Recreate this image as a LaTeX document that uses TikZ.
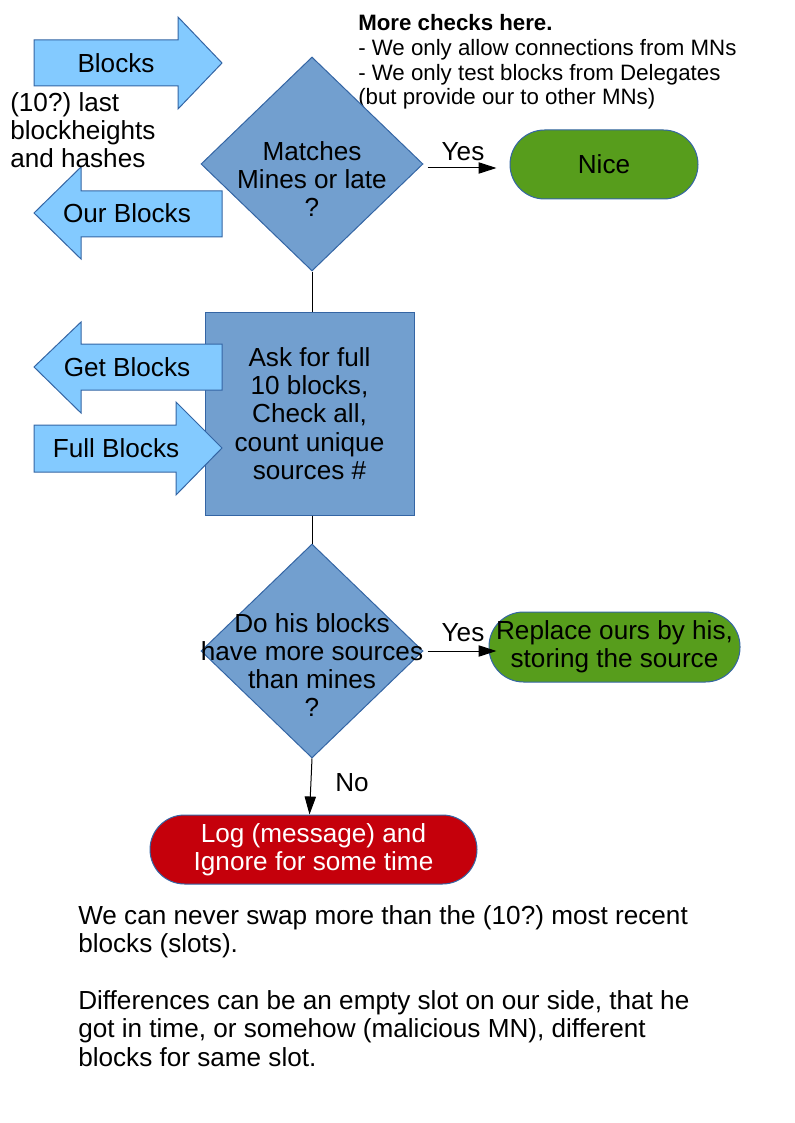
\documentclass[tikz,border=0pt]{standalone}
\usepackage{fontspec}
\setmainfont{Liberation Sans}
\usetikzlibrary{arrows.meta,shapes.geometric}
\definecolor{lblue}{HTML}{83CAFF}
\definecolor{bgray}{HTML}{729FCF}
\definecolor{bdr}{HTML}{3465A4}
\definecolor{lgreen}{HTML}{579D1C}
\definecolor{lred}{HTML}{C5000B}
\frenchspacing
\begin{document}
\begin{tikzpicture}[x=0.75pt,y=-0.75pt,
  every node/.style={font=\fontsize{19.6}{21.2}\selectfont, inner sep=0pt, align=center},
  shapeline/.style={draw=bdr, line width=0.75pt},
  blockarrow/.style={shapeline, fill=lblue},
  decision/.style={diamond, shapeline, fill=bgray, minimum width=166.5pt, minimum height=160.5pt},
  process/.style={rectangle, shapeline, fill=bgray},
  terminal/.style={rectangle, shapeline, rounded corners=25.9pt},
  conn/.style={draw=black, line width=0.75pt},
  arr/.style={conn, -{Triangle[length=13.5pt, width=8.5pt]}},
  small/.style={font=\fontsize{16.7}{18.4}\selectfont, align=left}
]
\useasboundingbox (0,0) rectangle (794,1123);

% process box
\node[process, minimum width=156.75pt, minimum height=152.25pt] (r) at (309.5,413.5)
  {Ask for full\\10 blocks,\\Check all,\\count unique\\sources \#};

% block arrows
\path[blockarrow] (34,40) -- (178,40) -- (178,17) -- (222,63) -- (178,109) -- (178,86) -- (34,86) -- cycle;
\node (blk) at (116,63) {Blocks};
\path[blockarrow] (222,191) -- (81,191) -- (81,167) -- (34,213) -- (81,259) -- (81,237) -- (222,237) -- cycle;
\node (our) at (127,213) {Our Blocks};
\path[blockarrow] (222,344) -- (81,344) -- (81,322) -- (34,367) -- (81,413) -- (81,390) -- (222,390) -- cycle;
\node (get) at (127,367) {Get Blocks};
\path[blockarrow] (34,425) -- (176,425) -- (176,402) -- (222,448) -- (176,495) -- (176,472) -- (34,472) -- cycle;
\node (full) at (116,448) {Full Blocks};

\node[anchor=west, align=left] (last) at (10,130) {(10?) last\\blockheights\\and hashes};

\node[small, anchor=west] (more) at (358,62) {\textbf{More checks here.}\\- We only allow connections from MNs\\- We only test blocks from Delegates\\(but provide our to other MNs)};

% decisions
\node[decision] (d1) at (312,164) {};
\node (d1t) at (312,179) {Matches\\Mines or late\\?};
\node[decision] (d2) at (312,651) {};
\node (d2t) at (312,665) {Do his blocks\\have more sources\\than mines\\?};

% terminals
\node[terminal, fill=lgreen, minimum width=141pt, minimum height=51.75pt] (nice) at (604,164.5) {Nice};
\node[terminal, fill=lgreen, minimum width=188.25pt, minimum height=52.5pt] (rep) at (614.5,647) {Replace ours by his,\\storing the source};
\node[terminal, fill=lred, text=white, minimum width=245.25pt, minimum height=51.75pt] (red) at (313.5,849.5) {Log (message) and\\Ignore for some time};

% connectors
\coordinate (y1s) at ([shift={(4,4)}]d1.east);
\coordinate (y1e) at ([xshift=-9.75pt]y1s -| nice.west);
\draw[conn] (d1.south) -- (d1.south |- r.north);
\draw[arr] (y1s) -- (y1e);
\node (yes1) at (463,152) {Yes};
\draw[conn] (d2.north |- r.south) -- (d2.north);
\coordinate (y2s) at ([xshift=3pt]d2.east);
\coordinate (y2e) at ([xshift=6pt]y2s -| rep.west);
\draw[arr] (y2s) -- (y2e);
\node (yes2) at (463,633) {Yes};
\draw[arr] (d2.south) -- ([xshift=-3pt]red.north);
\node (no) at (352,783) {No};

\node[anchor=west, align=left] (note) at (78,986)
  {We can never swap more than the (10?) most recent\\blocks (slots).\\[21.2pt]Differences can be an empty slot on our side, that he\\got in time, or somehow (malicious MN), different\\blocks for same slot.};
\end{tikzpicture}
\end{document}
